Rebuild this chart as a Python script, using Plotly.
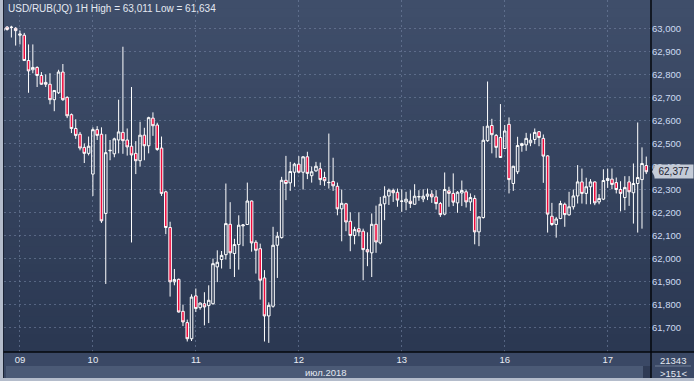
import numpy as np
import plotly.graph_objects as go

# ---------------- data ----------------
opens = [62.990, 63.005, 63.005, 63.000, 62.970, 62.970, 62.860, 62.820, 62.830, 62.795,
         62.765, 62.757, 62.690, 62.720, 62.810, 62.700, 62.625, 62.565, 62.540, 62.483,
         62.457, 62.367, 62.560, 62.540, 62.196, 62.468, 62.455, 62.515, 62.548, 62.515,
         62.488, 62.457, 62.425, 62.536, 62.490, 62.610, 62.580, 62.480, 62.290, 62.135,
         61.899, 61.910, 61.771, 61.722, 61.652, 61.838, 61.787, 61.804, 61.796, 61.804,
         61.964, 61.996, 62.017, 62.149, 62.022, 62.061, 62.142, 62.148, 62.250, 62.071,
         62.043, 61.916, 61.751, 61.793, 62.058, 62.091, 62.340, 62.329, 62.375, 62.410,
         62.375, 62.442, 62.360, 62.381, 62.390, 62.352, 62.331, 62.335, 62.314, 62.216,
         62.238, 62.162, 62.100, 62.130, 62.119, 62.039, 62.025, 62.149, 62.068, 62.238,
         62.272, 62.296, 62.288, 62.250, 62.246, 62.249, 62.236, 62.268, 62.259, 62.271,
         62.280, 62.268, 62.239, 62.193, 62.294, 62.283, 62.242, 62.285, 62.290, 62.246,
         62.261, 62.116, 62.178, 62.512, 62.578, 62.535, 62.526, 62.478, 62.583, 62.326,
         62.377, 62.491, 62.494, 62.503, 62.517, 62.551, 62.522, 62.446, 62.184, 62.148,
         62.174, 62.236, 62.190, 62.225, 62.272, 62.333, 62.283, 62.312, 62.333, 62.246,
         62.258, 62.339, 62.345, 62.330, 62.300, 62.265, 62.333, 62.286, 62.326, 62.343,
         62.404]
highs = [63.005, 63.010, 63.011, 63.005, 62.990, 62.980, 62.930, 62.930, 62.835, 62.810,
         62.800, 62.805, 62.730, 62.820, 62.845, 62.705, 62.630, 62.605, 62.550, 62.500,
         62.530, 62.570, 62.575, 62.570, 62.540, 62.515, 62.525, 62.690, 62.920, 62.565,
         62.745, 62.510, 62.594, 62.568, 62.616, 62.635, 62.590, 62.530, 62.295, 62.160,
         61.955, 61.913, 61.800, 61.735, 61.845, 61.870, 61.810, 61.854, 61.884, 62.000,
         62.036, 62.033, 62.326, 62.245, 62.086, 62.188, 62.150, 62.330, 62.252, 62.080,
         62.065, 61.950, 61.810, 62.138, 62.116, 62.355, 62.446, 62.420, 62.416, 62.445,
         62.445, 62.464, 62.400, 62.420, 62.417, 62.377, 62.543, 62.438, 62.330, 62.300,
         62.242, 62.201, 62.138, 62.201, 62.130, 62.114, 62.196, 62.230, 62.268, 62.314,
         62.304, 62.304, 62.304, 62.301, 62.290, 62.297, 62.323, 62.297, 62.301, 62.304,
         62.297, 62.297, 62.246, 62.374, 62.312, 62.370, 62.293, 62.339, 62.300, 62.283,
         62.275, 62.183, 62.575, 62.769, 62.607, 62.541, 62.671, 62.580, 62.613, 62.403,
         62.529, 62.503, 62.546, 62.543, 62.565, 62.553, 62.539, 62.449, 62.242, 62.181,
         62.251, 62.243, 62.290, 62.300, 62.406, 62.391, 62.351, 62.345, 62.335, 62.280,
         62.388, 62.391, 62.391, 62.352, 62.336, 62.358, 62.358, 62.413, 62.591, 62.483,
         62.443]
lows = [62.985, 62.990, 62.960, 62.925, 62.930, 62.858, 62.720, 62.805, 62.745, 62.755,
        62.745, 62.670, 62.640, 62.715, 62.685, 62.610, 62.545, 62.520, 62.470, 62.415,
        62.448, 62.272, 62.515, 62.155, 61.890, 62.427, 62.440, 62.457, 62.455, 62.447,
        62.070, 62.367, 62.400, 62.427, 62.457, 62.533, 62.468, 62.272, 62.106, 61.835,
        61.884, 61.766, 61.707, 61.640, 61.642, 61.768, 61.778, 61.710, 61.720, 61.800,
        61.898, 61.957, 61.996, 61.955, 61.920, 61.952, 62.054, 62.146, 62.030, 61.935,
        61.822, 61.640, 61.634, 61.787, 61.916, 62.087, 62.254, 62.294, 62.312, 62.370,
        62.300, 62.345, 62.330, 62.377, 62.319, 62.316, 62.304, 62.294, 62.188, 62.075,
        62.119, 62.032, 62.062, 62.097, 61.906, 61.967, 61.920, 62.025, 62.062, 62.167,
        62.233, 62.246, 62.225, 62.203, 62.210, 62.220, 62.234, 62.251, 62.245, 62.254,
        62.242, 62.213, 62.181, 62.188, 62.225, 62.228, 62.199, 62.228, 62.222, 62.207,
        62.062, 62.054, 62.174, 62.507, 62.457, 62.438, 62.437, 62.476, 62.283, 62.294,
        62.367, 62.464, 62.468, 62.488, 62.497, 62.488, 62.329, 62.113, 62.142, 62.091,
        62.171, 62.138, 62.186, 62.213, 62.239, 62.239, 62.236, 62.236, 62.232, 62.236,
        62.254, 62.307, 62.301, 62.283, 62.205, 62.210, 62.229, 62.152, 62.113, 62.130,
        62.367]
closes = [63.000, 62.995, 63.004, 62.990, 62.975, 62.860, 62.815, 62.830, 62.795, 62.757,
          62.757, 62.690, 62.730, 62.810, 62.690, 62.620, 62.565, 62.535, 62.480, 62.457,
          62.488, 62.560, 62.535, 62.164, 62.460, 62.470, 62.520, 62.550, 62.512, 62.485,
          62.450, 62.425, 62.536, 62.490, 62.612, 62.577, 62.474, 62.283, 62.135, 61.899,
          61.909, 61.768, 61.725, 61.652, 61.833, 61.783, 61.807, 61.790, 61.819, 61.978,
          61.984, 62.014, 62.152, 62.025, 62.061, 62.145, 62.146, 62.250, 62.068, 62.036,
          61.906, 61.751, 61.797, 62.058, 62.097, 62.340, 62.326, 62.378, 62.410, 62.375,
          62.442, 62.370, 62.377, 62.401, 62.343, 62.338, 62.330, 62.316, 62.216, 62.240,
          62.159, 62.100, 62.126, 62.116, 62.039, 62.029, 62.149, 62.072, 62.236, 62.271,
          62.297, 62.286, 62.254, 62.249, 62.258, 62.239, 62.271, 62.269, 62.271, 62.280,
          62.268, 62.239, 62.191, 62.300, 62.283, 62.245, 62.288, 62.296, 62.246, 62.265,
          62.116, 62.181, 62.514, 62.575, 62.538, 62.483, 62.439, 62.554, 62.343, 62.401,
          62.491, 62.499, 62.522, 62.514, 62.548, 62.526, 62.445, 62.193, 62.148, 62.172,
          62.239, 62.191, 62.225, 62.272, 62.333, 62.283, 62.312, 62.333, 62.242, 62.261,
          62.339, 62.348, 62.322, 62.300, 62.283, 62.309, 62.290, 62.326, 62.352, 62.413,
          62.377]

bar_index = list(range(len(closes)))
day_tick_index = [4, 21, 45, 69, 93, 117, 141]
day_tick_labels = ["09", "10", "11", "12", "13", "16", "17"]
price_ticks = [61.7, 61.8, 61.9, 62.0, 62.1, 62.2, 62.3, 62.4, 62.5, 62.6, 62.7, 62.8, 62.9, 63.0]
price_tick_labels = ["61,700", "61,800", "61,900", "62,000", "62,100", "62,200", "62,300",
                     "62,400", "62,500", "62,600", "62,700", "62,800", "62,900", "63,000"]
title_text = "USD/RUB(JQ) 1H High = 63,011 Low = 61,634"
month_label = "июл.2018"
last_price = closes[-1]
last_price_label = "62,377"
volume_label = "21343"
count_label = ">151<"

# ---------------- layout geometry (pixels) ----------------
W, H = 694, 381
PL, PR, PT, PB = 4, 651, 0, 352     # plot area in pixels
FONT = "Liberation Sans"


def fx(px):
    return (px - PL) / (PR - PL)


def fy(py):
    return 1 - (py - PT) / (PB - PT)


fig = go.Figure()
fig.add_trace(go.Candlestick(
    x=bar_index, open=opens, high=highs, low=lows, close=closes,
    increasing=dict(line=dict(color="#ffffff", width=1), fillcolor="rgba(0,0,0,0)"),
    decreasing=dict(line=dict(color="#ffffff", width=1), fillcolor="#ee0a3c"),
    whiskerwidth=0, showlegend=False, hoverinfo="skip",
))

shapes = []
# background vertical gradient (plot + right axis panel)
top_c = np.array([64, 79, 107])
bot_c = np.array([43, 56, 82])
nb = 40
for k in range(nb):
    t = (k + 0.5) / nb
    c = top_c + (bot_c - top_c) * t
    y0 = PB * k / nb
    y1 = PB * (k + 1) / nb + 0.6
    shapes.append(dict(type="rect", xref="paper", yref="paper", layer="below",
                       x0=fx(0), x1=fx(W), y0=fy(y1), y1=fy(y0), line=dict(width=0),
                       fillcolor="rgb(%d,%d,%d)" % tuple(c.astype(int))))
# x-axis label band
shapes.append(dict(type="rect", xref="paper", yref="paper", layer="below",
                   x0=fx(0), x1=fx(W), y0=fy(366), y1=fy(PB), line=dict(width=0),
                   fillcolor="#3a4865"))
# month band
shapes.append(dict(type="rect", xref="paper", yref="paper", layer="below",
                   x0=fx(6), x1=fx(643), y0=fy(378), y1=fy(366), line=dict(width=0),
                   fillcolor="#4b5a76"))
shapes.append(dict(type="rect", xref="paper", yref="paper", layer="below",
                   x0=fx(643), x1=fx(PR), y0=fy(378), y1=fy(366), line=dict(width=0),
                   fillcolor="#2f3b55"))
# frame
shapes.append(dict(type="rect", xref="paper", yref="paper", layer="above",
                   x0=fx(0), x1=fx(3), y0=fy(H), y1=fy(0), line=dict(width=0),
                   fillcolor="#b4bccb"))
shapes.append(dict(type="rect", xref="paper", yref="paper", layer="above",
                   x0=fx(0), x1=fx(W), y0=fy(H), y1=fy(378), line=dict(width=0),
                   fillcolor="#b4bccb"))
shapes.append(dict(type="line", xref="paper", yref="paper", layer="above",
                   x0=fx(3.5), x1=fx(3.5), y0=fy(378), y1=fy(0), line=dict(color="#1a2234", width=1)))
# black axis lines
shapes.append(dict(type="line", xref="paper", yref="paper", layer="above",
                   x0=fx(3.5), x1=fx(W), y0=fy(PB), y1=fy(PB), line=dict(color="#05070c", width=1.5)))
shapes.append(dict(type="line", xref="paper", yref="paper", layer="above",
                   x0=fx(PR), x1=fx(PR), y0=fy(378), y1=fy(0), line=dict(color="#05070c", width=1.5)))
# separator in lower right box
shapes.append(dict(type="line", xref="paper", yref="paper", layer="above",
                   x0=fx(655), x1=fx(691), y0=fy(366), y1=fy(366), line=dict(color="#6f7c96", width=1)))
# last price arrow
shapes.append(dict(type="path", xref="paper", yref="y", layer="above",
                   path="M %f,%f L %f,%f L %f,%f Z" % (fx(PR + 1), last_price,
                                                       fx(PR + 4), last_price + 0.024,
                                                       fx(PR + 4), last_price - 0.024),
                   fillcolor="#c4cbd7", line=dict(width=0)))

annotations = [
    dict(text=title_text, xref="paper", yref="paper", x=fx(6), y=fy(1), xanchor="left", yanchor="top",
         showarrow=False, font=dict(family=FONT, size=10, color="#e4e9f2")),
    dict(text=month_label, xref="paper", yref="paper", x=fx(349), y=fy(372), xanchor="right", yanchor="middle",
         showarrow=False, font=dict(family=FONT, size=9.5, color="#e4e9f2")),
    dict(text=last_price_label, xref="paper", yref="y", x=fx(PR + 3), y=last_price, xanchor="left", yanchor="middle",
         showarrow=False, bgcolor="#c4cbd7", borderpad=1, width=36,
         font=dict(family=FONT, size=10, color="#1c2333")),
    dict(text=volume_label, xref="paper", yref="paper", x=fx(673), y=fy(360), xanchor="center", yanchor="middle",
         showarrow=False, font=dict(family=FONT, size=9.5, color="#e4e9f2")),
    dict(text=count_label, xref="paper", yref="paper", x=fx(673), y=fy(373), xanchor="center", yanchor="middle",
         showarrow=False, font=dict(family=FONT, size=9.5, color="#e4e9f2")),
]

fig.update_layout(
    width=W, height=H, margin=dict(l=PL, r=W - PR, t=PT, b=H - PB),
    paper_bgcolor="#3a4865", plot_bgcolor="rgba(0,0,0,0)",
    shapes=shapes, annotations=annotations, showlegend=False, boxgap=0.15,
    xaxis=dict(range=[0.28, 151.1], rangeslider=dict(visible=False), tickmode="array",
               tickvals=day_tick_index, ticktext=day_tick_labels, showgrid=True,
               gridcolor="rgba(120,136,168,0.55)", griddash="2px,3px", gridwidth=1,
               zeroline=False, showline=False, ticks="",
               tickfont=dict(family=FONT, size=9.5, color="#e8ecf4")),
    yaxis=dict(range=[61.5944, 63.1229], side="right", tickmode="array",
               tickvals=price_ticks, ticktext=price_tick_labels, showgrid=True,
               gridcolor="rgba(120,136,168,0.55)", griddash="2px,3px", gridwidth=1,
               zeroline=False, showline=False, ticks="",
               tickfont=dict(family=FONT, size=9.5, color="#cddbf2")),
)

fig.write_html("out.html", config={"displayModeBar": False},
               post_script="document.body.style.margin='0';document.body.style.overflow='hidden';")
